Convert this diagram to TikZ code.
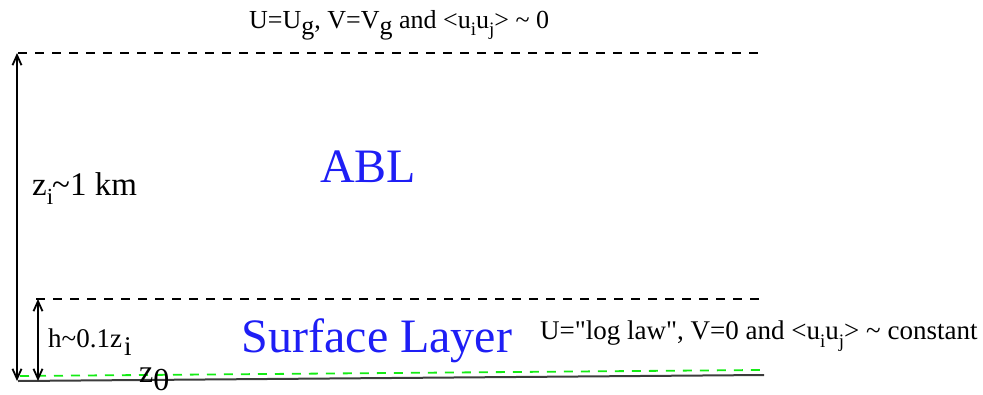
\documentclass[tikz,border=0pt]{standalone}
\usepackage{fontspec}
\setmainfont{Liberation Serif}[Ligatures=TeXOff]
\usetikzlibrary{arrows.meta}
\definecolor{ablblue}{RGB}{30,30,245}
\definecolor{grn}{RGB}{20,235,20}
\definecolor{ground}{RGB}{60,60,60}
\tikzset{
  lvl/.style={line width=1.6pt, dash pattern=on 9pt off 8pt},
  dim/.style={line width=1.8pt, {Straight Barb[length=10pt,width=9pt]}-{Straight Barb[length=10pt,width=9pt]}},
  lbl/.style={inner sep=0pt, anchor=base west},
  big/.style={inner sep=0pt, anchor=base, text=ablblue, font=\fontsize{48}{50}\selectfont}
}
\newcommand{\lo}[1]{\raisebox{-0.3em}{\fontsize{19}{20}\selectfont #1}}
\begin{document}
\begin{tikzpicture}[x=1pt,y=-1pt]
\useasboundingbox (0,0) rectangle (983,394);
% levels
\coordinate (tl) at (18,53);
\coordinate (tr) at (763,53);
\coordinate (sl) at (36,299);
\coordinate (sr) at (763,299);
\coordinate (gl) at (18,381);
\coordinate (gr) at (764,375);
\coordinate (gnl) at (20,376);
\coordinate (gnr) at (760,370);
\coordinate (a1t) at (17,53);
\coordinate (a1b) at (17,381);
\coordinate (a2t) at (38,299);
\coordinate (a2b) at (38,381);
\draw[lvl] (tl) -- (tr);
\draw[lvl] (sl) -- (sr);
\draw[line width=2pt, ground] (gl) -- (gr);
\draw[lvl, grn, line width=1.8pt] (gnl) -- (gnr);
\draw[dim] (a1t) -- (a1b);
\draw[dim] (a2t) -- (a2b);
% labels
\node[big] (abl) at (368,182) {ABL};
\node[big] (sfc) at (377,352) {Surface Layer};
\node[lbl, font=\fontsize{33}{35}\selectfont] (zi) at (32,195) {z\raisebox{-0.3em}{\fontsize{23}{24}\selectfont i}\kern-1pt\char`\~1 km};
\node[lbl, font=\fontsize{27}{29}\selectfont] (h) at (48,347) {h\char`\~0.1z\kern2pt\raisebox{-0.3em}{i}};
\node[lbl, font=\fontsize{32}{34}\selectfont] (z0) at (139,382) {z\raisebox{-0.25em}{0}};
\node[lbl, font=\fontsize{26}{28}\selectfont] (top) at (249,28) {U=U\raisebox{-0.25em}{g}, V=V\raisebox{-0.25em}{g} and <u\lo{i}u\lo{j}> \char`\~{} 0};
\node[lbl, font=\fontsize{27}{29}\selectfont] (right) at (540,339) {U="log law", V=0 and <u\lo{i}u\lo{j}> \char`\~{} constant};
\end{tikzpicture}
\end{document}
